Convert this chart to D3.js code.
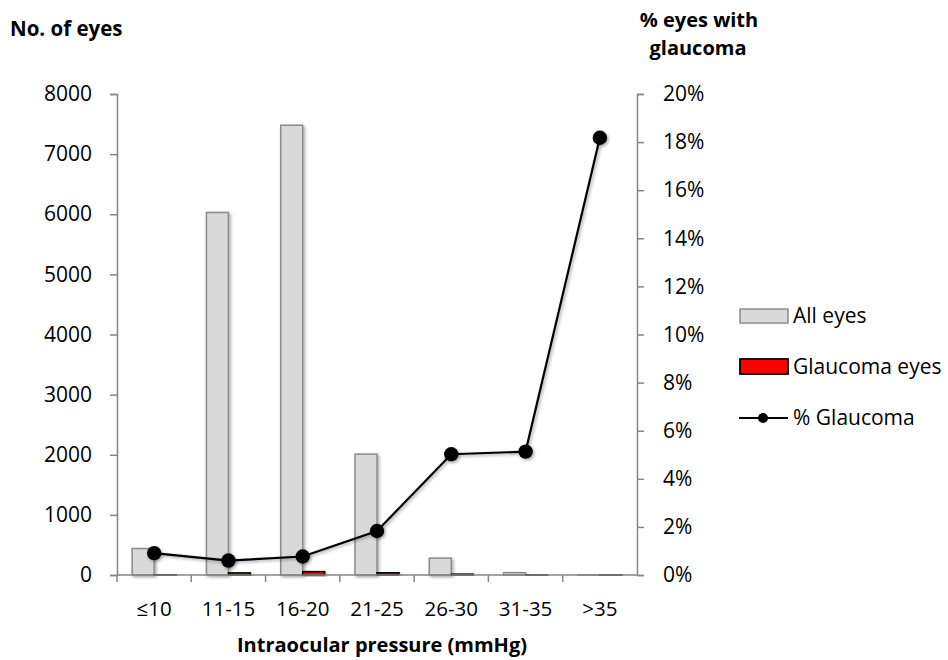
<!DOCTYPE html>
<html><head><meta charset="utf-8">
<script src="https://cdn.jsdelivr.net/npm/d3@7"></script>
<style>
body{margin:0;background:#fff;}
svg text{font-family:"Open Sans",sans-serif;fill:#000;}
</style></head>
<body><svg id="c" width="948" height="660"></svg>
<script>
const categories = ["≤10","11-15","16-20","21-25","26-30","31-35",">35"];
const allEyes = [440, 6030, 7480, 2010, 280, 39, 11];
const glaucomaEyes = [4, 35, 56, 37, 14, 2, 2];
const pctGlaucoma = [0.91, 0.60, 0.77, 1.83, 5.02, 5.13, 18.18];
const leftTicks = [0,1000,2000,3000,4000,5000,6000,7000,8000];
const rightTicks = [0,2,4,6,8,10,12,14,16,18,20];
const seriesNames = ["All eyes","Glaucoma eyes","% Glaucoma"];

const svg = d3.select("#c");
const X0 = 117, X1 = 637, Y0 = 575, Y1 = 94;
const defs = svg.append("defs");
const f = defs.append("filter").attr("id","sh").attr("x","-30%").attr("y","-30%").attr("width","170%").attr("height","170%");
f.append("feDropShadow").attr("dx",1.5).attr("dy",1.5).attr("stdDeviation",1.5).attr("flood-color","#000").attr("flood-opacity",0.35);

const x = d3.scaleBand().domain(categories).range([X0,X1]).padding(0);
const x1 = d3.scaleBand().domain(["all","gl"]).range([0,x.bandwidth()]).paddingInner(0).paddingOuter(0.69);
const yL = d3.scaleLinear().domain([0,8000]).range([Y0,Y1]);
const yR = d3.scaleLinear().domain([0,20]).range([Y0,Y1]);

// bars
const g = svg.append("g");
g.selectAll("rect.all").data(categories).join("rect")
  .attr("x",d=>x(d)+x1("all")).attr("width",x1.bandwidth())
  .attr("y",(d,i)=>yL(allEyes[i])).attr("height",(d,i)=>Y0-yL(allEyes[i]))
  .attr("fill","#d9d9d9").attr("stroke","#8c8c8c").attr("stroke-width",1.5)
  .attr("filter","url(#sh)");
g.selectAll("rect.gl").data(categories).join("rect")
  .attr("x",d=>x(d)+x1("gl")).attr("width",x1.bandwidth())
  .attr("y",(d,i)=>yL(glaucomaEyes[i])).attr("height",(d,i)=>Y0-yL(glaucomaEyes[i]))
  .attr("fill","#ff0000").attr("stroke","#000").attr("stroke-width",1.5)
  .attr("filter","url(#sh)");

// axes
const axL = svg.append("g").attr("transform",`translate(${X0},0)`)
  .call(d3.axisLeft(yL).tickValues(leftTicks).tickSize(7).tickPadding(18).tickFormat(d3.format("d")));
const axR = svg.append("g").attr("transform",`translate(${X1},0)`)
  .call(d3.axisRight(yR).tickValues(rightTicks).tickSize(7).tickPadding(19).tickFormat(d=>d+"%"));
const axB = svg.append("g").attr("transform",`translate(0,${Y0})`)
  .call(d3.axisBottom(x).tickSize(0).tickPadding(26));
axB.selectAll("line.b").data(categories.slice(1)).join("line")
  .attr("x1",d=>x(d)).attr("x2",d=>x(d)).attr("y1",0).attr("y2",7);
axB.append("line").attr("x1",X0).attr("x2",X0).attr("y1",0).attr("y2",7);
[axL,axR,axB].forEach(a=>{
  a.selectAll("path").attr("stroke","#868686").attr("stroke-width",1.5);
  a.selectAll("line").attr("stroke","#868686").attr("stroke-width",1.5);
  a.selectAll("text").attr("font-size",21).attr("font-family","Open Sans").attr("fill","#000");
});
axB.selectAll("text").attr("font-size",20.5);
axB.select("path").attr("d",`M${X0},0H${X1}`);

// line
const pts = categories.map((c,i)=>[x(c)+x.bandwidth()/2, yR(pctGlaucoma[i])]);
svg.append("path").attr("d",d3.line()(pts)).attr("fill","none").attr("stroke","#000").attr("stroke-width",2.2).attr("filter","url(#sh)");
svg.selectAll("circle.p").data(pts).join("circle").attr("cx",d=>d[0]).attr("cy",d=>d[1]).attr("r",7.2).attr("fill","#000").attr("filter","url(#sh)");

// titles
svg.append("text").attr("x",10).attr("y",36).attr("font-size",20.5).attr("font-weight","bold").text("No. of eyes");
svg.append("text").attr("x",699).attr("y",27).attr("text-anchor","middle").attr("font-size",20).attr("font-weight","bold").text("% eyes with");
svg.append("text").attr("x",698).attr("y",55).attr("text-anchor","middle").attr("font-size",20).attr("font-weight","bold").text("glaucoma");
svg.append("text").attr("x",382).attr("y",652).attr("text-anchor","middle").attr("font-size",20).attr("font-weight","bold").text("Intraocular pressure (mmHg)");

// legend
const L = svg.append("g");
L.append("rect").attr("x",740).attr("y",309).attr("width",48).attr("height",14).attr("fill","#d9d9d9").attr("stroke","#8c8c8c").attr("stroke-width",1.5);
L.append("text").attr("x",793).attr("y",323).attr("font-size",21).text(seriesNames[0]);
L.append("rect").attr("x",740).attr("y",359).attr("width",48).attr("height",15).attr("fill","#ff0000").attr("stroke","#000").attr("stroke-width",1.8);
L.append("text").attr("x",793).attr("y",374).attr("font-size",21).text(seriesNames[1]);
L.append("line").attr("x1",739).attr("x2",788).attr("y1",418).attr("y2",418).attr("stroke","#000").attr("stroke-width",2.2);
L.append("circle").attr("cx",763).attr("cy",418).attr("r",5).attr("fill","#000");
L.append("text").attr("x",793).attr("y",425).attr("font-size",21).text(seriesNames[2]);
</script></body></html>
